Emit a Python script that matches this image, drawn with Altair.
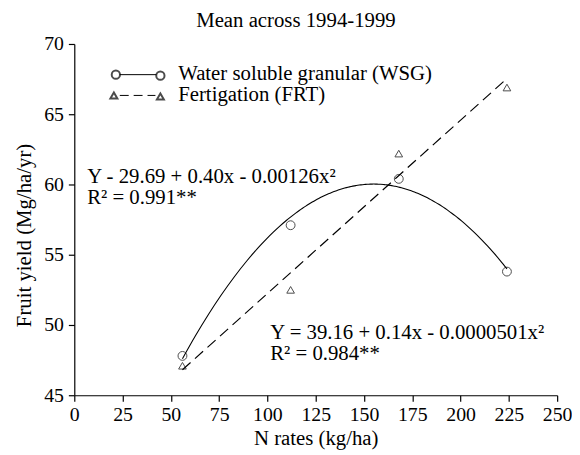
import altair as alt
import pandas as pd

n_rates = [56, 112, 168, 224]
wsg_yield = [47.8, 57.1, 60.4, 53.8]
frt_yield = [47.1, 52.5, 62.2, 66.9]

FONT = "Liberation Serif"
FS = 21

wsg = pd.DataFrame({"x": n_rates, "y": wsg_yield})
frt = pd.DataFrame({"x": n_rates, "y": frt_yield})

xs = alt.Scale(domain=[0, 250], nice=False)
ys = alt.Scale(domain=[45, 70], nice=False, zero=False)

common = dict(grid=False, domainColor="black", tickColor="black", labelColor="black",
              titleColor="black", labelFont=FONT, titleFont=FONT, labelFontSize=20,
              titleFontSize=FS, titleFontWeight="normal", tickSize=6, domainWidth=1.2,
              tickWidth=1.2, labelFlush=False)
xax = alt.Axis(values=list(range(0, 251, 25)), title="N rates (kg/ha)",
               labelPadding=4, titlePadding=3, **common)
yax = alt.Axis(values=list(range(45, 71, 5)), title="Fruit yield (Mg/ha/yr)",
               labelPadding=5, titlePadding=9, titleY=193, **common)

wsg_pts = alt.Chart(wsg).mark_point(shape="circle", size=80, color="black", strokeWidth=1).encode(
    x=alt.X("x:Q", scale=xs, axis=xax), y=alt.Y("y:Q", scale=ys, axis=yax))
frt_pts = alt.Chart(frt).mark_point(shape="triangle-up", size=60, color="black", strokeWidth=1).encode(
    x=alt.X("x:Q", scale=xs), y=alt.Y("y:Q", scale=ys))

wsg_fit = alt.Chart(wsg).transform_regression("x", "y", method="poly", order=2).mark_line(
    color="black", strokeWidth=1.1, interpolate="monotone").encode(
    x=alt.X("x:Q", scale=xs), y=alt.Y("y:Q", scale=ys))
frt_fit = alt.Chart(frt).transform_regression("x", "y", method="linear").mark_line(
    color="black", strokeWidth=1.2, strokeDash=[11, 6]).encode(
    x=alt.X("x:Q", scale=xs), y=alt.Y("y:Q", scale=ys))

one = pd.DataFrame({"a": [0]})

def txt(s, x, y, size=FS, align="left"):
    return alt.Chart(one).mark_text(text=s, font=FONT, fontSize=size, align=align,
                                    baseline="middle", color="black").encode(
        x=alt.value(x), y=alt.value(y))

title = txt("Mean across 1994-1999", 224, -23, align="center")
eq1 = txt("Y - 29.69 + 0.40x - 0.00126x²", 13, 135)
r1 = txt("R² = 0.991**", 13, 156)
eq2 = txt("Y = 39.16 + 0.14x - 0.0000501x²", 198, 292)
r2 = txt("R² = 0.984**", 198, 313)

leg_line1 = alt.Chart(one).mark_rule(color="black", strokeWidth=1).encode(
    x=alt.value(46), x2=alt.value(83), y=alt.value(31))
leg_c1 = alt.Chart(one).mark_point(shape="circle", size=70, color="black").encode(
    x=alt.value(42), y=alt.value(31))
leg_c2 = alt.Chart(one).mark_point(shape="circle", size=70, color="black").encode(
    x=alt.value(87), y=alt.value(32))
leg_line2 = alt.Chart(one).mark_rule(color="black", strokeWidth=1, strokeDash=[9, 5]).encode(
    x=alt.value(46), x2=alt.value(82), y=alt.value(52))
leg_t1 = alt.Chart(one).mark_point(shape="triangle-up", size=50, color="black").encode(
    x=alt.value(40), y=alt.value(52))
leg_t2 = alt.Chart(one).mark_point(shape="triangle-up", size=50, color="black").encode(
    x=alt.value(87), y=alt.value(53))
leg_txt1 = txt("Water soluble granular (WSG)", 105, 30)
leg_txt2 = txt("Fertigation (FRT)", 105, 52)

chart = alt.layer(
    wsg_fit, frt_fit, wsg_pts, frt_pts, title, eq1, r1, eq2, r2,
    leg_line1, leg_c1, leg_c2, leg_line2, leg_t1, leg_t2, leg_txt1, leg_txt2
).properties(
    width=488, height=355,
    autosize=alt.AutoSizeParams(type="none"),
    padding={"left": 67, "top": 34, "right": 15, "bottom": 55},
    background="white",
).configure_view(stroke=None)

chart.save("out.html", embed_options={"renderer": "svg", "actions": False})
